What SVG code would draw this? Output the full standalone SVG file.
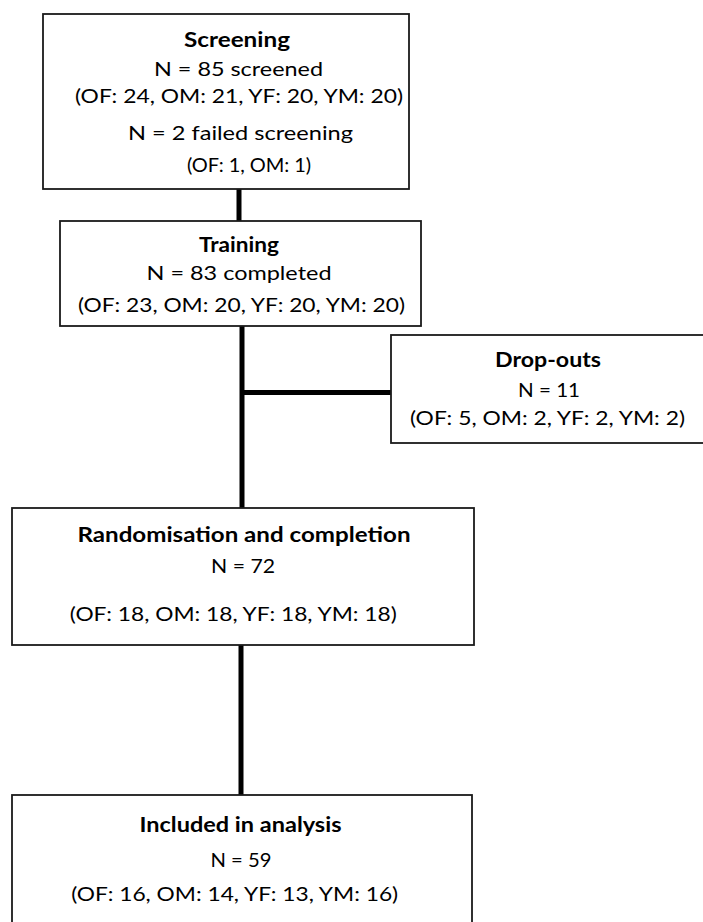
<svg xmlns="http://www.w3.org/2000/svg" width="703" height="922" viewBox="0 0 703 922">
<style>
.box{fill:#fff;stroke:#1a1a1a;stroke-width:1.8}
.conn{stroke:#000;stroke-width:5;fill:none}
text{font-family:Lato,"Liberation Sans",sans-serif;font-size:20px;fill:#000;text-anchor:middle}
.b{font-weight:bold}
</style>
<rect width="703" height="922" fill="#fff"/>
<g id="connectors">
<line class="conn" x1="239" y1="189" x2="239" y2="221"/>
<line class="conn" x1="242" y1="326" x2="242" y2="508" stroke-width="4.5"/>
<line class="conn" x1="242" y1="392.5" x2="391" y2="392.5"/>
<line class="conn" x1="241" y1="645" x2="241" y2="795" stroke-width="4.5"/>
</g>
<g id="screening">
<rect class="box" x="43" y="14" width="366" height="175"/>
<text class="b" x="237" y="46.7" textLength="106" lengthAdjust="spacingAndGlyphs">Screening</text>
<text x="238.5" y="76" textLength="169" lengthAdjust="spacingAndGlyphs">N = 85 screened</text>
<text x="239" y="103.3" textLength="328" lengthAdjust="spacingAndGlyphs">(OF: 24, OM: 21, YF: 20, YM: 20)</text>
<text x="240.5" y="140" textLength="225" lengthAdjust="spacingAndGlyphs">N = 2 failed screening</text>
<text x="249" y="172" textLength="124" lengthAdjust="spacing">(OF: 1, OM: 1)</text>
</g>
<g id="training">
<rect class="box" x="60" y="221" width="361" height="105"/>
<text class="b" x="239" y="252" textLength="80" lengthAdjust="spacingAndGlyphs">Training</text>
<text x="239" y="280" textLength="185" lengthAdjust="spacingAndGlyphs">N = 83 completed</text>
<text x="241.5" y="311.7" textLength="327" lengthAdjust="spacingAndGlyphs">(OF: 23, OM: 20, YF: 20, YM: 20)</text>
</g>
<g id="dropouts">
<rect class="box" x="391" y="335" width="313" height="108"/>
<text class="b" x="548" y="366.7" textLength="106" lengthAdjust="spacingAndGlyphs">Drop-outs</text>
<text x="549" y="396.7" textLength="62" lengthAdjust="spacingAndGlyphs">N = 11</text>
<text x="547.5" y="425" textLength="275" lengthAdjust="spacingAndGlyphs">(OF: 5, OM: 2, YF: 2, YM: 2)</text>
</g>
<g id="randomisation">
<rect class="box" x="12" y="508" width="462" height="137"/>
<text class="b" x="244" y="541.7" textLength="333" lengthAdjust="spacingAndGlyphs">Randomisation and completion</text>
<text x="243" y="573" textLength="64" lengthAdjust="spacingAndGlyphs">N = 72</text>
<text x="233.3" y="621" textLength="327" lengthAdjust="spacingAndGlyphs">(OF: 18, OM: 18, YF: 18, YM: 18)</text>
</g>
<g id="included">
<rect class="box" x="12" y="795" width="460" height="135"/>
<text class="b" x="240.5" y="831.7" textLength="202" lengthAdjust="spacingAndGlyphs">Included in analysis</text>
<text x="241" y="866.7" textLength="61" lengthAdjust="spacingAndGlyphs">N = 59</text>
<text x="234.7" y="900.7" textLength="327" lengthAdjust="spacingAndGlyphs">(OF: 16, OM: 14, YF: 13, YM: 16)</text>
</g>
</svg>
